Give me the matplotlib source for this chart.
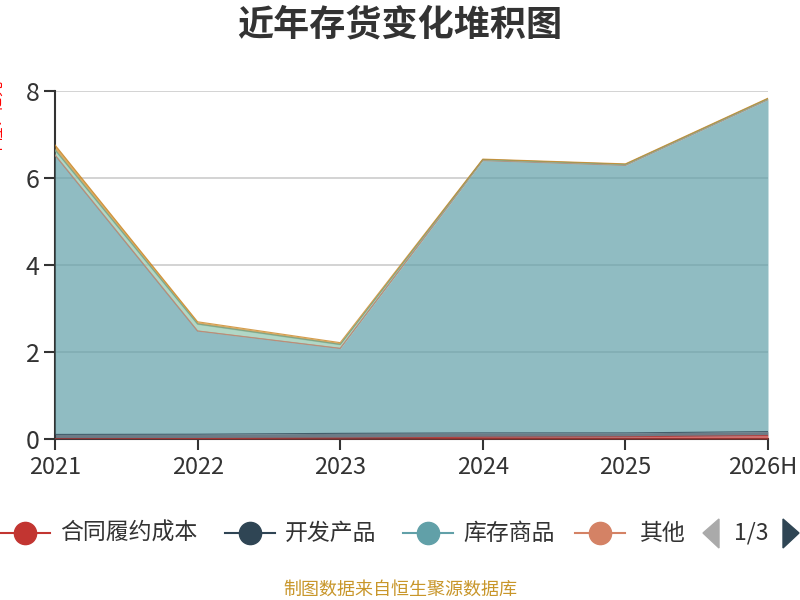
import matplotlib
matplotlib.use("Agg")
import matplotlib.pyplot as plt
from matplotlib.lines import Line2D
import matplotlib.transforms as mtransforms
import numpy as np

plt.rcParams['font.family'] = ['Noto Sans CJK SC', 'DejaVu Sans']

years = ["2021", "2022", "2023", "2024", "2025", "2026H"]
series_names = ["合同履约成本", "开发产品", "库存商品", "其他", "原材料", "在产品", "周转材料"]
series_colors = ["#c23531", "#2f4554", "#61a0a8", "#d48265", "#91c7ae", "#749f83", "#ca8622"]
v_contract = [0.005, 0.01, 0.02, 0.04, 0.05, 0.08]
v_dev = [0.10, 0.10, 0.11, 0.10, 0.09, 0.09]
v_goods = [6.42, 2.37, 1.95, 6.26, 6.15, 7.63]
v_other = [0.005, 0.005, 0.005, 0.005, 0.005, 0.005]
v_raw = [0.11, 0.15, 0.08, 0.015, 0.015, 0.015]
v_wip = [0.01, 0.01, 0.01, 0.005, 0.005, 0.005]
v_tool = [0.11, 0.05, 0.04, 0.01, 0.01, 0.01]
values = [v_contract, v_dev, v_goods, v_other, v_raw, v_wip, v_tool]
y_ticks = [0, 2, 4, 6, 8]

fig = plt.figure(figsize=(8, 6), dpi=100)
ax = fig.add_axes([55/800, 1-439/600, (768-55)/800, (439-91)/600])
x = np.arange(len(years))
base = np.zeros(len(years))
for name, col, vals in zip(series_names, series_colors, values):
    top = base + np.array(vals)
    ax.fill_between(x, base, top, color=col, alpha=0.7, lw=0, zorder=3)
    ax.plot(x, top, color=col, lw=0.8, alpha=0.8, zorder=4)
    base = top

ax.set_xlim(0, len(years)-1)
ax.set_ylim(0, 8)
ax.set_xticks(x)
ax.set_xticklabels(years, fontsize=17, color='#333333')
ax.set_yticks(y_ticks)
ax.set_yticklabels([str(t) for t in y_ticks], fontsize=18, color='#333333')
ax.grid(axis='y', color='#cccccc', lw=1.2, zorder=0)
ax.set_axisbelow(True)
for s in ['top', 'right']:
    ax.spines[s].set_visible(False)
for s in ['left', 'bottom']:
    ax.spines[s].set_color('#333333')
    ax.spines[s].set_linewidth(1.5)
    ax.spines[s].set_zorder(1)
ax.tick_params(axis='both', colors='#333333', length=8, width=1.5)
ax.tick_params(axis='x', pad=4)
ax.tick_params(axis='y', pad=3)
for lbl in ax.get_yticklabels():
    lbl.set_va('center_baseline')
last = ax.get_xticklabels()[-1]
last.set_transform(last.get_transform() + mtransforms.ScaledTranslation(-5/100, 0, fig.dpi_scale_trans))

fig.text(0.5, 1-25/600, "近年存货变化堆积图", ha='center', va='center',
         fontsize=26, fontweight='bold', color='#333333')
fig.text(-3/800, 1-118/600, "单位：亿元", rotation=90, ha='center', va='center',
         fontsize=11, color='#ff0000')

# legend (page 1 of 3)
leg_y = 1-533/600
leg_items = [(25, 60), (250, 285), (428, 463), (600, 640)]
for (cx, tx), name, col in zip(leg_items, series_names[:4], series_colors[:4]):
    fig.add_artist(Line2D([(cx-25)/800, (cx+25)/800], [leg_y, leg_y],
                          transform=fig.transFigure, color=col, lw=1.5))
    fig.add_artist(Line2D([cx/800], [leg_y], transform=fig.transFigure,
                          marker='o', markersize=16, color=col, lw=0))
    fig.text(tx/800, leg_y, name, ha='left', va='center', fontsize=16.5, color='#333333')
fig.add_artist(plt.Polygon([[719/800, 1-519/600], [719/800, 1-548/600], [703/800, 1-533/600]],
                           closed=True, transform=fig.transFigure, color='#aaaaaa'))
fig.text(751/800, leg_y, "1/3", ha='center', va='center', fontsize=16.5, color='#333333')
fig.add_artist(plt.Polygon([[783/800, 1-519/600], [783/800, 1-548/600], [799/800, 1-533/600]],
                           closed=True, transform=fig.transFigure, color='#2f4554'))

fig.text(0.5, 1-590/600, "制图数据来自恒生聚源数据库", ha='center', va='center',
         fontsize=13, color='#c8962a')

fig.savefig("out.png", dpi=100)
